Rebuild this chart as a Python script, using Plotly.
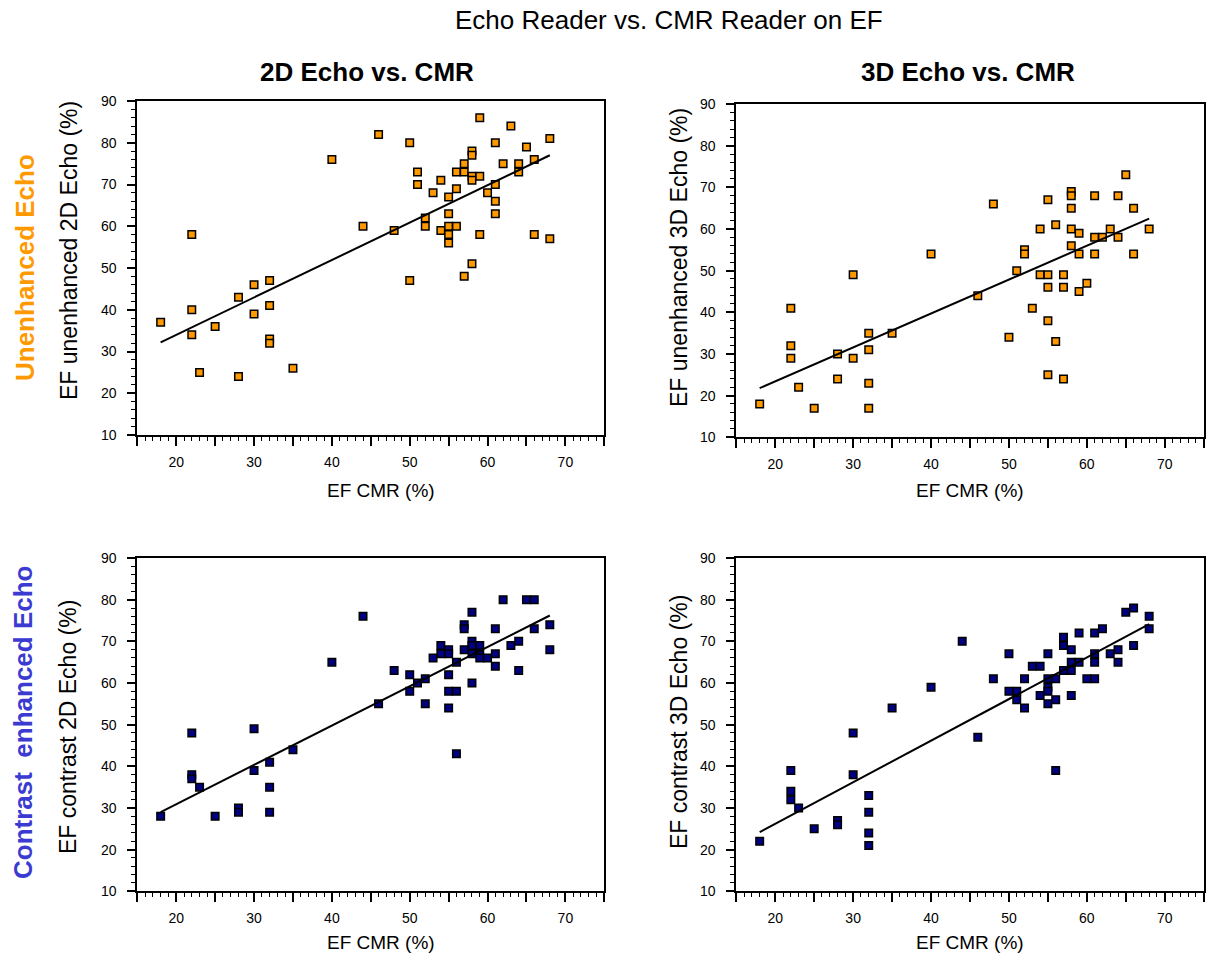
import plotly.graph_objects as go
from plotly.subplots import make_subplots

# ---------------- data ----------------
cmr_2d_unenh = [18, 22, 22, 22, 23, 25, 28, 28, 30, 30, 32, 32, 32, 32, 35, 40, 44, 46, 48, 50, 50,
                51, 51, 52, 52, 53, 54, 54, 55, 55, 55, 55, 55, 56, 56, 56, 57, 57, 57, 58, 58, 58,
                58, 58, 59, 59, 59, 60, 61, 61, 61, 61, 62, 63, 64, 64, 65, 66, 66, 68, 68]
echo_2d_unenh = [37, 58, 40, 34, 25, 36, 43, 24, 46, 39, 47, 41, 33, 32, 26, 76, 60, 82, 59, 80, 47,
                 73, 70, 62, 60, 68, 71, 59, 67, 63, 60, 58, 56, 73, 69, 60, 75, 73, 48, 78, 77, 72,
                 71, 51, 86, 72, 58, 68, 80, 70, 66, 63, 75, 84, 75, 73, 79, 76, 58, 81, 57]

cmr_3d_unenh = [18, 22, 22, 22, 23, 25, 28, 28, 30, 30, 32, 32, 32, 32, 35, 40, 46, 48, 50, 51, 52,
                52, 53, 54, 54, 55, 55, 55, 55, 55, 56, 56, 57, 57, 57, 58, 58, 58, 58, 58, 59, 59,
                59, 60, 61, 61, 61, 62, 63, 64, 64, 65, 66, 66, 68]
echo_3d_unenh = [18, 41, 32, 29, 22, 17, 30, 24, 49, 29, 35, 31, 23, 17, 35, 54, 44, 66, 34, 50, 55,
                 54, 41, 60, 49, 67, 49, 46, 38, 25, 61, 33, 49, 46, 24, 69, 68, 65, 60, 56, 59, 54,
                 45, 47, 68, 58, 54, 58, 60, 68, 58, 73, 65, 54, 60]

cmr_2d_contr = [18, 22, 22, 22, 23, 25, 28, 28, 30, 30, 32, 32, 32, 35, 40, 44, 46, 48, 50, 50, 51,
                52, 52, 53, 54, 54, 55, 55, 55, 55, 55, 56, 56, 56, 57, 57, 57, 58, 58, 58, 58, 58,
                59, 59, 59, 60, 61, 61, 61, 62, 63, 64, 64, 65, 66, 66, 68, 68]
echo_2d_contr = [28, 48, 38, 37, 35, 28, 30, 29, 49, 39, 41, 35, 29, 44, 65, 76, 55, 63, 62, 58, 60,
                 61, 55, 66, 69, 67, 68, 67, 62, 58, 54, 65, 58, 43, 74, 73, 68, 77, 70, 69, 67, 60,
                 69, 67, 66, 66, 73, 67, 64, 80, 69, 70, 63, 80, 80, 73, 74, 68]

cmr_3d_contr = [18, 22, 22, 22, 23, 25, 28, 28, 30, 30, 32, 32, 32, 32, 35, 40, 44, 46, 48, 50, 50,
                51, 51, 52, 52, 53, 54, 54, 55, 55, 55, 55, 55, 56, 56, 56, 57, 57, 57, 58, 58, 58,
                58, 59, 59, 60, 61, 61, 61, 61, 62, 63, 64, 64, 65, 66, 66, 68, 68]
echo_3d_contr = [22, 39, 34, 32, 30, 25, 27, 26, 48, 38, 33, 29, 24, 21, 54, 59, 70, 47, 61, 67, 58,
                 58, 56, 61, 54, 64, 64, 57, 67, 61, 59, 58, 55, 61, 56, 39, 71, 69, 63, 68, 65, 63,
                 57, 72, 65, 61, 72, 67, 65, 61, 73, 67, 68, 65, 77, 78, 69, 76, 73]

# regression lines (end points)
fit_x = [18, 68]
fit_2d_unenh = [32.2, 77.0]
fit_3d_unenh = [21.8, 62.5]
fit_2d_contr = [29.0, 76.2]
fit_3d_contr = [24.2, 74.1]

x_tickvals = [15, 20, 25, 30, 35, 40, 45, 50, 55, 60, 65, 70, 75]
x_ticktext = ["", "20", "", "30", "", "40", "", "50", "", "60", "", "70", ""]
y_tickvals = [10, 20, 30, 40, 50, 60, 70, 80, 90]

main_title = "Echo Reader vs. CMR Reader on EF"
col_titles = ["2D Echo vs. CMR", "3D Echo vs. CMR"]
row_titles = ["Unenhanced Echo", "Contrast\u00a0 enhanced Echo"]
x_title = "EF CMR (%)"
y_titles = ["EF unenhanced 2D Echo (%)", "EF unenhanced 3D Echo (%)",
            "EF contrast 2D Echo (%)", "EF contrast 3D Echo (%)"]

ORANGE = "#FF9900"
NAVY = "#000080"
ROW_BLUE = "#3B3BD1"
FONT = "Liberation Sans, Arial, sans-serif"

W, H = 1210, 953

fig = make_subplots(rows=2, cols=2)

panels = [
    (1, 1, cmr_2d_unenh, echo_2d_unenh, fit_2d_unenh, ORANGE),
    (1, 2, cmr_3d_unenh, echo_3d_unenh, fit_3d_unenh, ORANGE),
    (2, 1, cmr_2d_contr, echo_2d_contr, fit_2d_contr, NAVY),
    (2, 2, cmr_3d_contr, echo_3d_contr, fit_3d_contr, NAVY),
]

for r, c, xs, ys, fy, col in panels:
    fig.add_trace(go.Scatter(x=xs, y=ys, mode="markers",
                             marker=dict(symbol="square", size=7.5, color=col,
                                         line=dict(color="black", width=1.5)),
                             showlegend=False, cliponaxis=False), row=r, col=c)
    fig.add_trace(go.Scatter(x=fit_x, y=fy, mode="lines",
                             line=dict(color="black", width=2),
                             showlegend=False), row=r, col=c)

# pixel geometry of the plot areas
px_x = {1: (137.3, 604.3), 2: (736.3, 1203.7)}
px_y = {(1, 1): (101, 435), (1, 2): (104, 437.3), (2, 1): (558, 891.3), (2, 2): (558, 891.3)}

for r in (1, 2):
    for c in (1, 2):
        x0, x1 = px_x[c]
        ytop, ybot = px_y[(r, c)]
        fig.update_xaxes(
            domain=[x0 / W, x1 / W], range=[15, 75], autorange=False,
            tickmode="array", tickvals=x_tickvals, ticktext=x_ticktext,
            ticks="outside", ticklen=9, tickwidth=1.5, tickcolor="black",
            minor=dict(tickmode="linear", tick0=15, dtick=1, ticks="outside",
                       ticklen=4, tickwidth=1, tickcolor="black"),
            showline=True, linecolor="black", linewidth=2, mirror=True,
            showgrid=False, zeroline=False, automargin=False,
            tickfont=dict(family=FONT, size=14, color="black"),
            ticklabelstandoff=4,
            row=r, col=c)
        fig.update_yaxes(
            domain=[1 - ybot / H, 1 - ytop / H], range=[10, 90], autorange=False,
            tickmode="array", tickvals=y_tickvals,
            ticks="outside", ticklen=8, tickwidth=1.5, tickcolor="black",
            minor=dict(tickmode="linear", tick0=10, dtick=2, ticks="outside",
                       ticklen=4, tickwidth=1, tickcolor="black"),
            showline=True, linecolor="black", linewidth=2, mirror=True,
            showgrid=False, zeroline=False, automargin=False,
            tickfont=dict(family=FONT, size=14, color="black"),
            ticklabelstandoff=8,
            row=r, col=c)

annotations = []


def ann(text, px, py, size, color="black", bold=False, angle=0):
    t = f"<b>{text}</b>" if bold else text
    annotations.append(dict(text=t, x=px / W, y=1 - py / H, xref="paper", yref="paper",
                            xanchor="center", yanchor="middle", showarrow=False,
                            textangle=angle,
                            font=dict(family=FONT, size=size, color=color)))


ann(main_title, 669, 20, 26)
ann(col_titles[0], 367, 72, 26, bold=True)
ann(col_titles[1], 968, 72, 26, bold=True)
ann(x_title, 381, 490, 19)
ann(x_title, 970, 490, 19)
ann(x_title, 381, 942, 19)
ann(x_title, 970, 942, 19)
ann(y_titles[0], 69, 251, 23, angle=-90)
ann(y_titles[1], 679, 258, 23, angle=-90)
ann(y_titles[2], 68, 727, 23, angle=-90)
ann(y_titles[3], 679, 722, 23, angle=-90)
ann(row_titles[0], 25, 268, 26, color=ORANGE, bold=True, angle=-90)
ann(row_titles[1], 23, 722, 26, color=ROW_BLUE, bold=True, angle=-90)

fig.update_layout(
    width=W, height=H, autosize=False,
    margin=dict(l=0, r=0, t=0, b=0),
    paper_bgcolor="white", plot_bgcolor="white",
    annotations=annotations,
    showlegend=False,
)

fig.write_html("out.html",
               config={"displayModeBar": False},
               post_script="document.body.style.margin='0px';document.body.style.overflow='hidden';")
